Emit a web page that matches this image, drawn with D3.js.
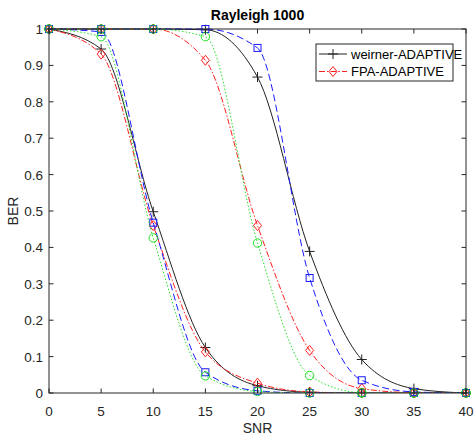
<!DOCTYPE html>
<html>
<head>
<meta charset="utf-8">
<script src="https://cdn.jsdelivr.net/npm/d3@7"></script>
<style>
  body { margin: 0; background: #fff; }
  text { font-family: "Liberation Sans", Arial, sans-serif; }
</style>
</head>
<body>
<div id="chart"></div>
<script>
// data
const snr = [0, 5, 10, 15, 20, 25, 30, 35, 40];
const xTicks = [0, 5, 10, 15, 20, 25, 30, 35, 40];
const yTicks = [0, 0.1, 0.2, 0.3, 0.4, 0.5, 0.6, 0.7, 0.8, 0.9, 1];

// low SNR group
const weinerLow = [1, 0.945, 0.498, 0.125, 0.02, 0.002, 0, 0, 0];
const fpaLow    = [1, 0.931, 0.46, 0.113, 0.027, 0.003, 0, 0, 0];
const blueLow   = [1, 0.992, 0.468, 0.057, 0.006, 0, 0, 0, 0];
const greenLow  = [1, 0.979, 0.426, 0.047, 0.004, 0, 0, 0, 0];
// high SNR group
const weinerHigh = [1, 1, 1, 0.998, 0.868, 0.389, 0.092, 0.012, 0];
const fpaHigh    = [1, 1, 1, 0.914, 0.46, 0.117, 0.012, 0.001, 0];
const blueHigh   = [1, 1, 1, 1, 0.948, 0.316, 0.035, 0.003, 0];
const greenHigh  = [1, 1, 1, 0.979, 0.412, 0.048, 0.001, 0, 0];

const legendLabels = ["weirner-ADAPTIVE", "FPA-ADAPTIVE"];

// line styles (MATLAB-ish)
const styles = {
  k: { color: "#222", dash: null, marker: "plus" },
  r: { color: "#ff2020", dash: "6,2,1.5,2", marker: "diamond" },
  b: { color: "#1a1aff", dash: "7,3.5", marker: "square" },
  g: { color: "#22e022", dash: "1.5,2", marker: "circle" }
};

const series = [
  { values: weinerLow, s: "k" },
  { values: fpaLow, s: "r" },
  { values: blueLow, s: "b" },
  { values: greenLow, s: "g" },
  { values: weinerHigh, s: "k" },
  { values: fpaHigh, s: "r" },
  { values: blueHigh, s: "b" },
  { values: greenHigh, s: "g" }
];

const margin = { top: 29, right: 9, bottom: 43, left: 49 },
      width = 475 - margin.left - margin.right,
      height = 436 - margin.top - margin.bottom;

const svg = d3.select("#chart")
  .append("svg")
    .attr("width", 475)
    .attr("height", 436)
  .append("g")
    .attr("transform", `translate(${margin.left},${margin.top})`);

const x = d3.scaleLinear().domain([0, 40]).range([0, width]);
const y = d3.scaleLinear().domain([0, 1]).range([height, 0]);

const axisColor = "#262626";

// clip so lines stay in the box
svg.append("clipPath").attr("id", "clip")
  .append("rect").attr("width", width).attr("height", height + 1).attr("y", -1);

const line = d3.line()
  .x((d, i) => x(snr[i]))
  .y(d => y(d))
  .curve(d3.curveMonotoneX);

function drawMarker(g, type, cx, cy, color) {
  if (type === "plus") {
    g.append("path")
      .attr("d", `M${cx - 5},${cy}H${cx + 5}M${cx},${cy - 5}V${cy + 5}`)
      .attr("stroke", color).attr("stroke-width", 1).attr("fill", "none");
  } else if (type === "diamond") {
    g.append("path")
      .attr("d", `M${cx},${cy - 5}L${cx + 4},${cy}L${cx},${cy + 5}L${cx - 4},${cy}Z`)
      .attr("stroke", color).attr("stroke-width", 1).attr("fill", "none");
  } else if (type === "square") {
    g.append("rect")
      .attr("x", cx - 3.5).attr("y", cy - 3.5).attr("width", 7).attr("height", 7)
      .attr("stroke", color).attr("stroke-width", 1).attr("fill", "none");
  } else {
    g.append("circle")
      .attr("cx", cx).attr("cy", cy).attr("r", 4.2)
      .attr("stroke", color).attr("stroke-width", 1).attr("fill", "none");
  }
}

// lines and markers
series.forEach(d => {
  const st = styles[d.s];
  const g = svg.append("g");
  g.append("path")
    .datum(d.values)
    .attr("clip-path", "url(#clip)")
    .attr("fill", "none")
    .attr("stroke", st.color)
    .attr("stroke-width", 1)
    .attr("stroke-dasharray", st.dash)
    .attr("d", line);
  d.values.forEach((v, i) => drawMarker(g, st.marker, x(snr[i]), y(v), st.color));
});

// axes (box with inward ticks on all sides)
const tickLen = 4.5;
const frame = svg.append("g").attr("stroke", axisColor).attr("fill", "none");
frame.append("rect").attr("width", width).attr("height", height).attr("stroke-width", 1);

xTicks.forEach(t => {
  frame.append("line").attr("x1", x(t)).attr("x2", x(t)).attr("y1", height).attr("y2", height - tickLen);
  frame.append("line").attr("x1", x(t)).attr("x2", x(t)).attr("y1", 0).attr("y2", tickLen);
});
yTicks.forEach(t => {
  frame.append("line").attr("x1", 0).attr("x2", tickLen).attr("y1", y(t)).attr("y2", y(t));
  frame.append("line").attr("x1", width).attr("x2", width - tickLen).attr("y1", y(t)).attr("y2", y(t));
});

svg.append("g").selectAll("text")
  .data(xTicks)
  .enter()
  .append("text")
    .attr("x", d => x(d))
    .attr("y", height + 23)
    .attr("text-anchor", "middle")
    .attr("font-size", "13.5px")
    .attr("fill", axisColor)
    .text(d => d);

svg.append("g").selectAll("text")
  .data(yTicks)
  .enter()
  .append("text")
    .attr("x", -6)
    .attr("y", d => y(d) + 5)
    .attr("text-anchor", "end")
    .attr("font-size", "13.5px")
    .attr("fill", axisColor)
    .text(d => d);

// labels
svg.append("text")
  .attr("x", width / 2)
  .attr("y", height + 40)
  .attr("text-anchor", "middle")
  .attr("font-size", "14px")
  .attr("fill", axisColor)
  .text("SNR");

svg.append("text")
  .attr("transform", `translate(-31,${height / 2}) rotate(-90)`)
  .attr("text-anchor", "middle")
  .attr("font-size", "14px")
  .attr("fill", axisColor)
  .text("BER");

svg.append("text")
  .attr("x", width / 2)
  .attr("y", -9)
  .attr("text-anchor", "middle")
  .attr("font-size", "14px")
  .attr("font-weight", "bold")
  .attr("fill", "#000")
  .text("Rayleigh 1000");

// legend
const lg = svg.append("g").attr("transform", `translate(${316 - margin.left},${44 - margin.top})`);
lg.append("rect")
  .attr("width", 137).attr("height", 37)
  .attr("fill", "#fff").attr("stroke", axisColor).attr("stroke-width", 1);

["k", "r"].forEach((k, i) => {
  const st = styles[k];
  const cy = 10 + i * 17.5;
  lg.append("line")
    .attr("x1", 3).attr("x2", 31).attr("y1", cy).attr("y2", cy)
    .attr("stroke", st.color).attr("stroke-width", 1)
    .attr("stroke-dasharray", st.dash);
  drawMarker(lg, st.marker, 17, cy, st.color);
  lg.append("text")
    .attr("x", 35).attr("y", cy + 4.5)
    .attr("font-size", "13px")
    .attr("fill", "#000")
    .text(legendLabels[i]);
});
</script>
</body>
</html>
